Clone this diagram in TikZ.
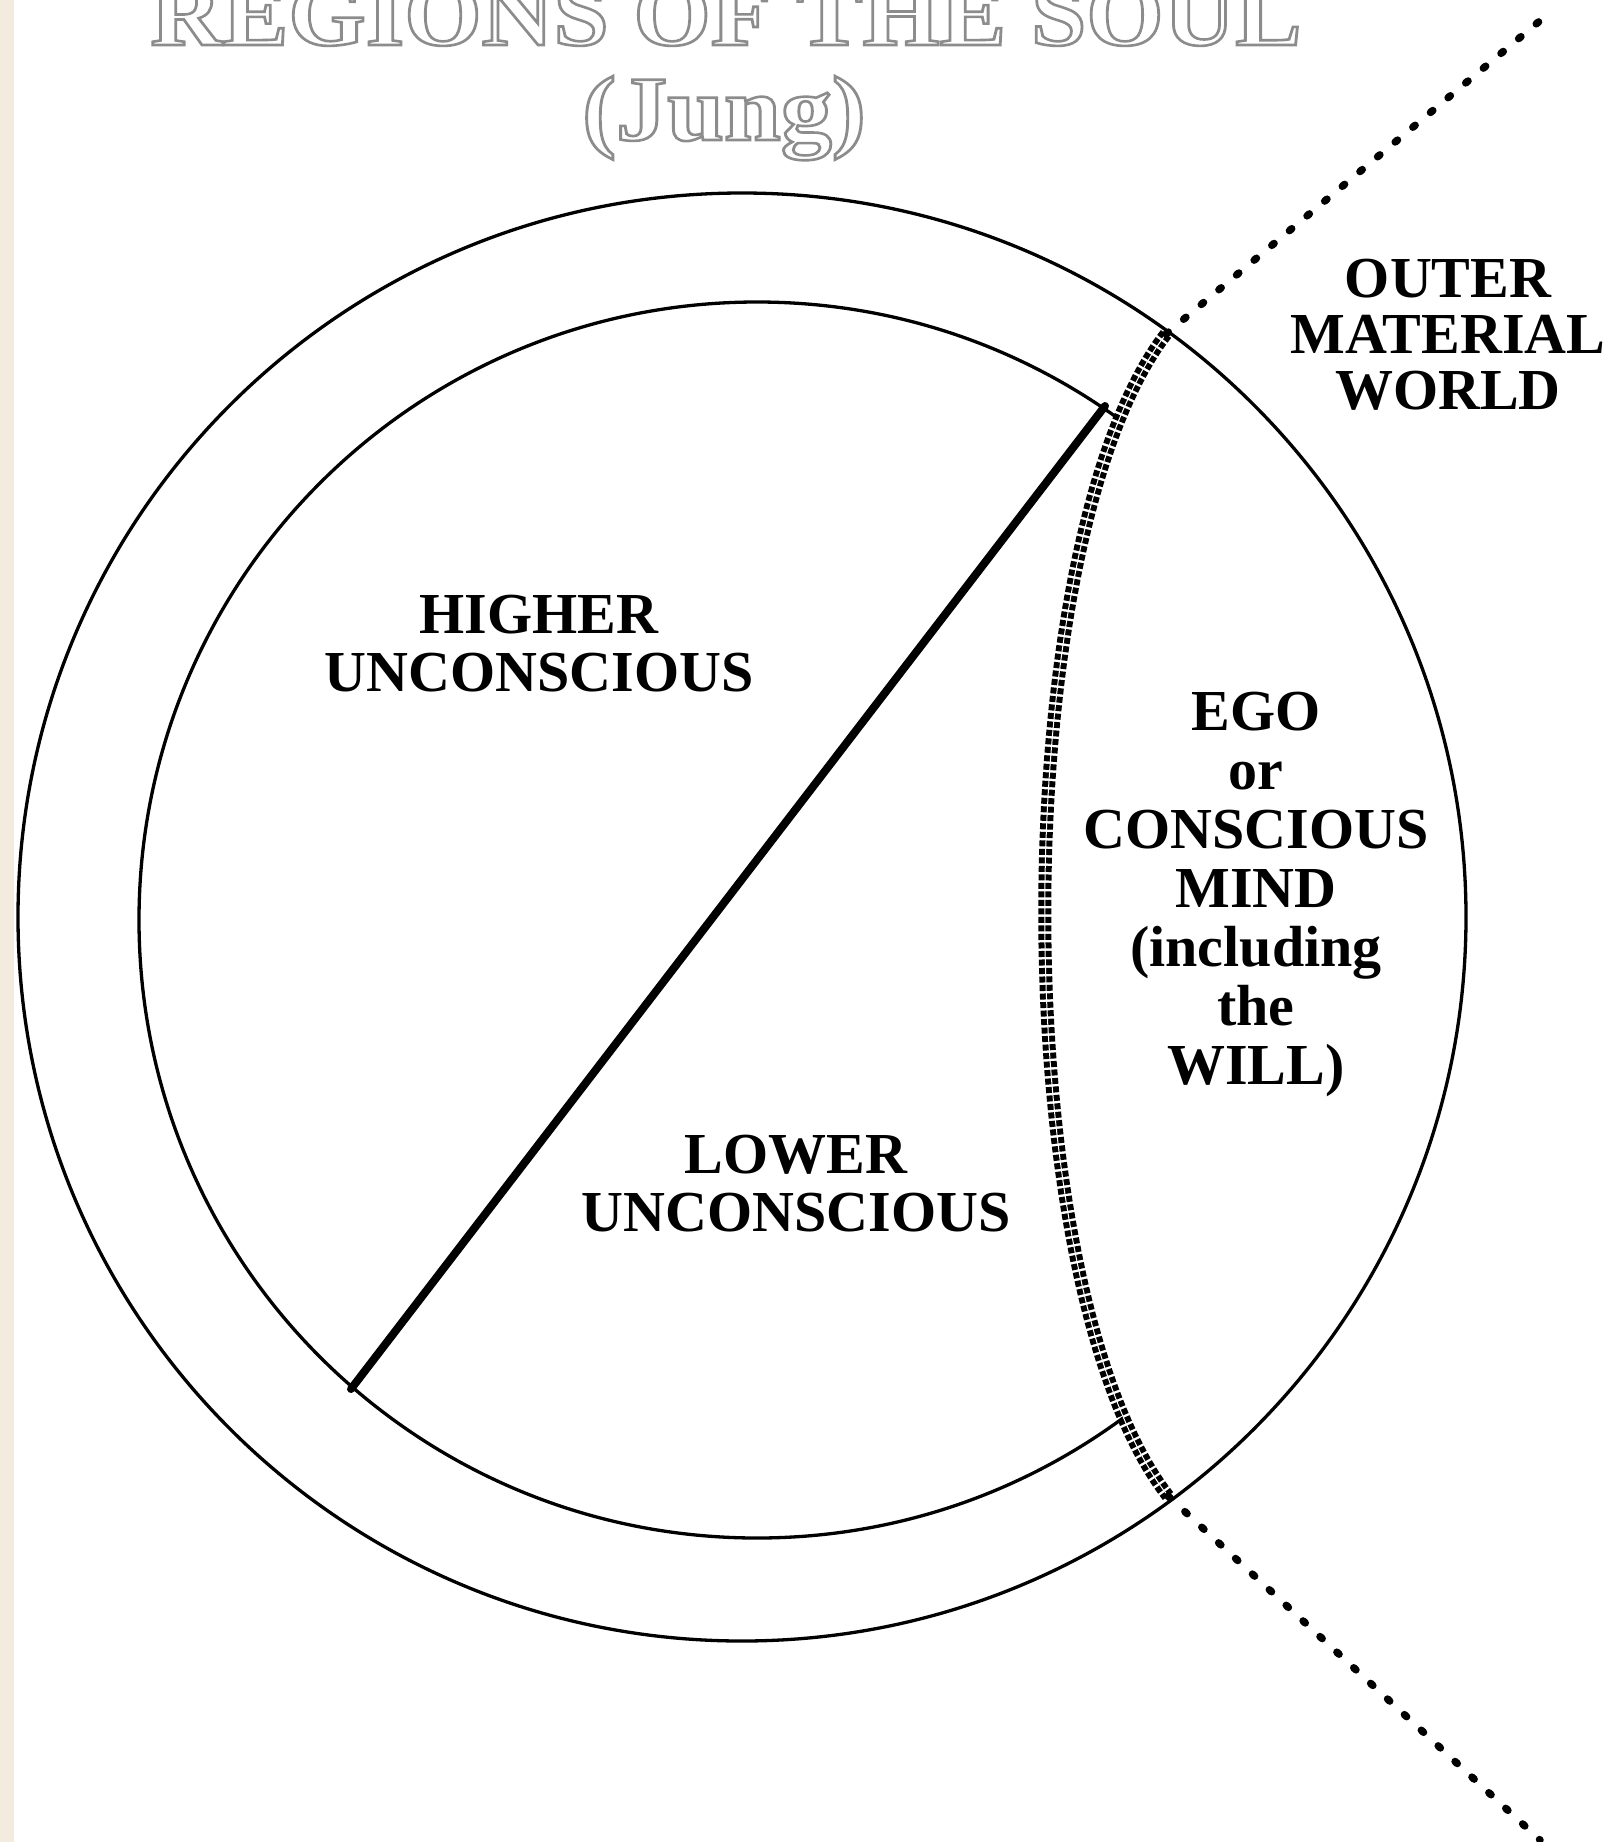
\documentclass[tikz,border=0pt]{standalone}
\usepackage{fontspec}
\setmainfont{Liberation Serif}
\usepackage{graphicx}
\definecolor{paper}{HTML}{F3ECDE}
\newcommand\outl[1]{\textcolor{white}{\special{pdf:literal direct 0.55 G 2.6 w 2 Tr}#1\special{pdf:literal direct 0 Tr}}}
\begin{document}
\begin{tikzpicture}[x=1pt,y=-1pt,
  ring/.style={line width=3.3pt},
  divider/.style={line width=8pt, line cap=round},
  threshold/.style={line width=13pt, dash pattern=on 6pt off 2.5pt},
  seam/.style={line width=1pt, white},
  dotline/.style={line width=7.5pt, line cap=round, dash pattern=on 3pt off 20pt},
  lbl/.style={font=\bfseries\fontsize{58}{58}\selectfont, align=center, inner sep=0pt},
  ttl/.style={font=\bfseries\fontsize{92}{92}\selectfont, inner sep=0pt, anchor=base}]
\useasboundingbox (0,0) rectangle (1617,1842);
\fill[white] (0,0) rectangle (1617,1842);
\fill[paper] (0,0) rectangle (14,1842);

% title
\node[ttl] (title) at (726,45) {\scalebox{1.08}[1]{\outl{REGIONS OF THE SOUL}}};
\node[ttl] (jung) at (724,140) {\scalebox{1.11}[1]{\outl{(Jung)}}};

% key points
\coordinate (ctop) at (1166,334);
\coordinate (cbot) at (1168,1496);
\coordinate (dtop) at (1105,406);
\coordinate (dbot) at (351,1389);
\coordinate (farup) at (1548,14);
\coordinate (fardown) at (1540,1840);

% outer circle
\draw[ring] (742,917) circle[radius=724];

% inner circle, only left of the threshold
\begin{scope}
  \clip (0,0) -- (1166,0) -- (ctop) .. controls (1004,544) and (1004,1286) .. (cbot) -- (1168,1842) -- (0,1842) -- cycle;
  \draw[ring] (757,920) circle[radius=618];
\end{scope}

% diagonal divider
\draw[divider] (dtop) -- (dbot);

% threshold curve
\draw[threshold] (ctop) .. controls (1004,544) and (1004,1286) .. (cbot);
\draw[seam] (ctop) .. controls (1004,544) and (1004,1286) .. (cbot);

% dotted lines to outer world
\draw[dotline] (ctop) -- (farup);
\draw[dotline] (cbot) -- (fardown);

% labels
\node[lbl, font=\bfseries\fontsize{58}{56}\selectfont] (outer) at (1448,335) {OUTER\\MATERIAL\\WORLD};
\node[lbl] (higher) at (539,644) {HIGHER\\UNCONSCIOUS};
\node[lbl] (lower) at (796,1184) {LOWER\\UNCONSCIOUS};
\node[lbl, font=\bfseries\fontsize{58}{59}\selectfont] (ego) at (1256,894) {EGO\\or\\CONSCIOUS\\MIND\\(including\\the\\WILL)};
\end{tikzpicture}
\end{document}
